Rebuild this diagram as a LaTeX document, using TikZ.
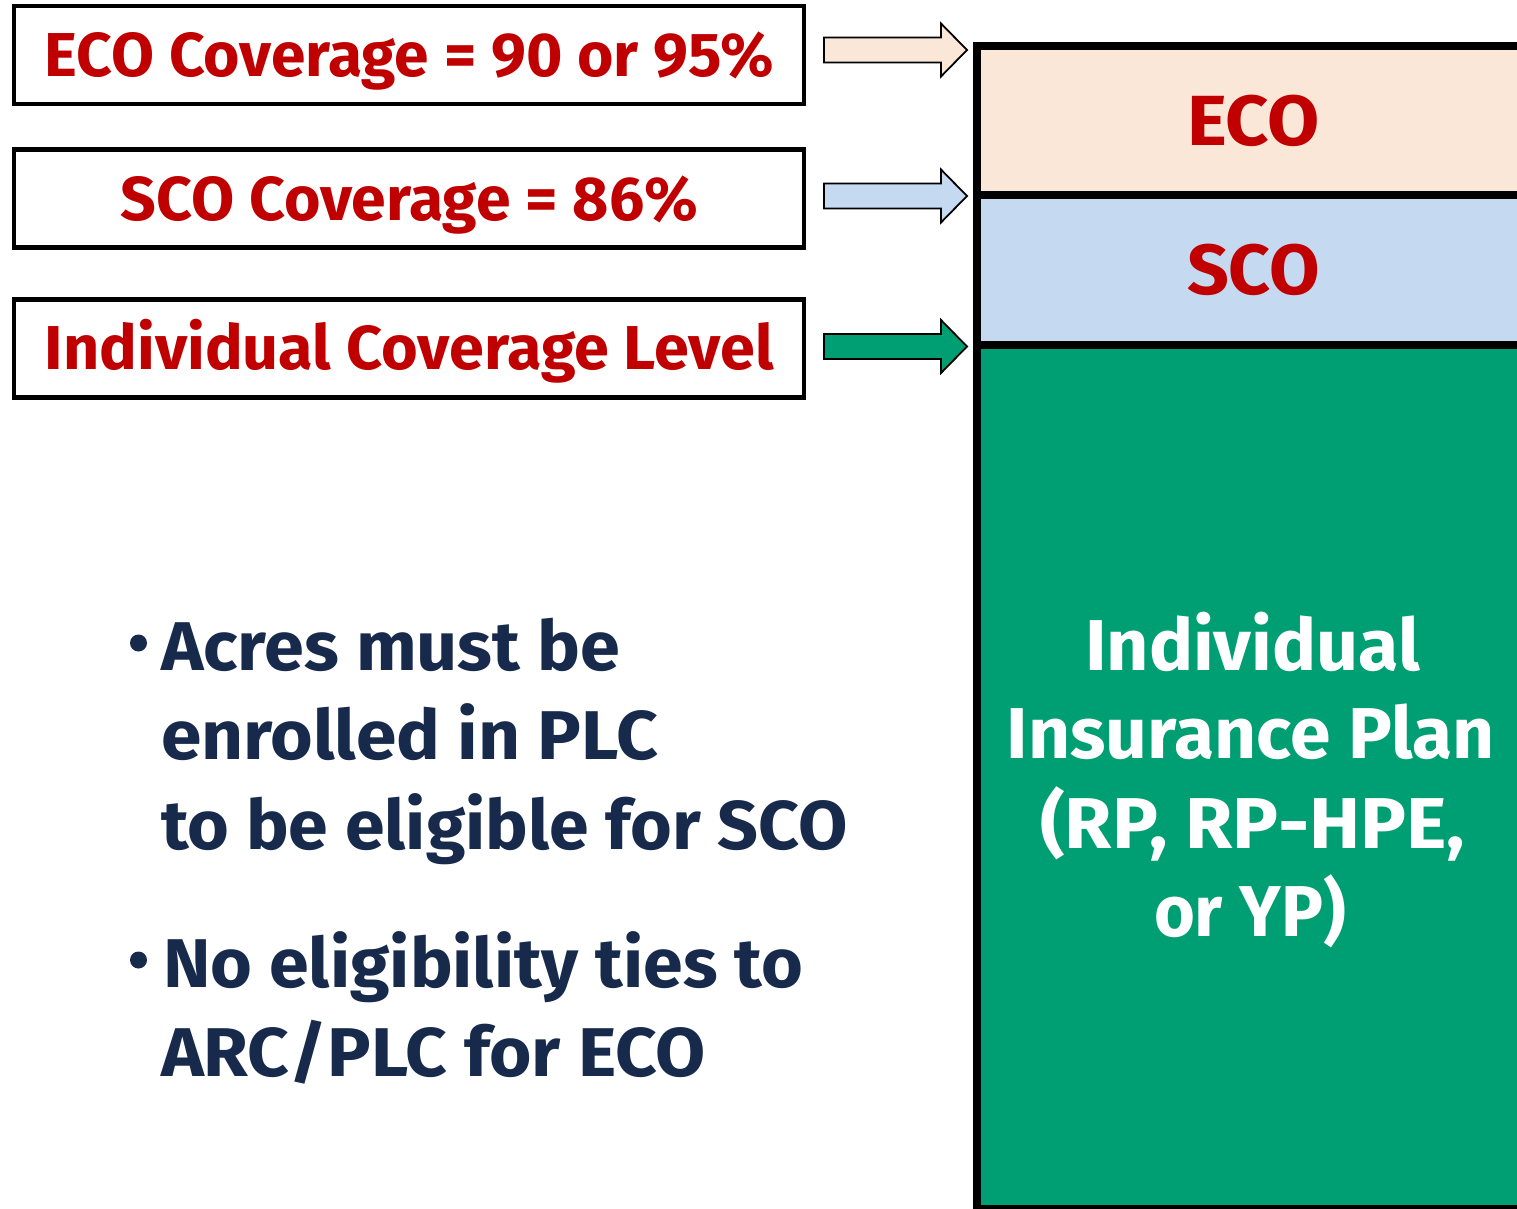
\documentclass[tikz,border=0pt]{standalone}
\usepackage{fontspec}
\setmainfont{Fira Sans}
\usepackage{graphicx}
\definecolor{ecored}{RGB}{192,0,0}
\definecolor{ecofill}{RGB}{251,231,216}
\definecolor{scofill}{RGB}{197,217,240}
\definecolor{insgreen}{RGB}{0,159,115}
\definecolor{navy}{RGB}{24,42,76}
\newcommand\fitw[2]{\resizebox{#1}{\height}{#2}}
\tikzset{
  redbox/.style={draw=black, line width=4.5pt, minimum width=790pt, minimum height=98pt, inner sep=0pt},
  redtxt/.style={text=ecored, inner sep=0pt, outer sep=0pt, anchor=base, font=\bfseries\fontsize{62}{70}\selectfont},
  col/.style={draw=black, line width=8pt, minimum width=553pt, inner sep=0pt, text=ecored, font=\bfseries\fontsize{71}{80}\selectfont},
  whitetxt/.style={text=white, inner sep=0pt, outer sep=0pt, anchor=base, font=\bfseries\fontsize{72}{80}\selectfont},
  bultxt/.style={text=navy, inner sep=0pt, outer sep=0pt, anchor=base west, font=\bfseries\fontsize{69}{80}\selectfont},
  buldot/.style={circle, fill=navy, minimum size=17pt, inner sep=0pt},
  blockarr/.pic={\path[draw=black, line width=1.8pt, line join=miter, pic actions]
     (0,-12.5) -- (117,-12.5) -- (117,-26.5) -- (143,0) -- (117,26.5) -- (117,12.5) -- (0,12.5) -- cycle;}
}
\begin{document}
\begin{tikzpicture}[x=1pt,y=-1pt]
\useasboundingbox[fill=white] (0,0) rectangle (1517,1208);

% left boxes
\node[redbox] (b1) at (409,55) {};
\node[redbox] (b2) at (409,198.5) {};
\node[redbox] (b3) at (409,348.5) {};
\node[redtxt] (t1) at (409.5,76) {\fitw{729pt}{ECO Coverage = 90 or 95\%}};
\node[redtxt] (t2) at (409.5,220) {\fitw{577pt}{SCO Coverage = 86\%}};
\node[redtxt] (t3) at (409.5,369) {\fitw{729pt}{Individual Coverage Level}};

% arrows
\pic[fill=ecofill] (a1) at (824,50) {blockarr};
\pic[fill=scofill] (a2) at (824,196) {blockarr};
\pic[fill=insgreen] (a3) at (824,346.5) {blockarr};

% right column
\node[col, fill=ecofill, minimum height=149pt] (eco) at (1253.5,120.5) {\fitw{133pt}{ECO}};
\node[col, fill=scofill, minimum height=150pt] (sco) at (1253.5,270) {\fitw{133pt}{SCO}};
\node[col, fill=insgreen, minimum height=864pt] (ind) at (1253.5,777) {};

\node[whitetxt] (g1) at (1252.5,670) {\fitw{335pt}{Individual}};
\node[whitetxt] (g2) at (1251,758) {\fitw{488pt}{Insurance Plan}};
\node[whitetxt] (g3) at (1252.5,848) {\fitw{425pt}{(RP, RP-HPE,}};
\node[whitetxt] (g4) at (1250,936) {\fitw{192pt}{or YP)}};

% bullets
\node[buldot] (d1) at (138.5,643) {};
\node[buldot] (d2) at (138.5,960) {};
\node[bultxt] (l1) at (161,670) {\fitw{459pt}{Acres must be}};
\node[bultxt] (l2) at (161,759) {\fitw{497pt}{enrolled in PLC}};
\node[bultxt] (l3) at (161,849) {\fitw{687pt}{to be eligible for SCO}};
\node[bultxt] (l4) at (163,987) {\fitw{640pt}{No eligibility ties to}};
\node[bultxt] (l5) at (161,1076) {\fitw{545pt}{ARC/PLC for ECO}};
\end{tikzpicture}
\end{document}
